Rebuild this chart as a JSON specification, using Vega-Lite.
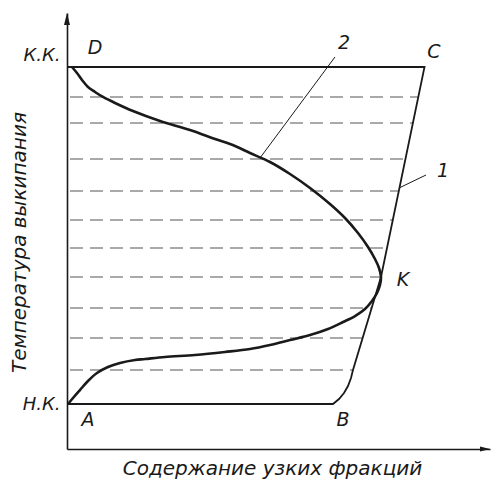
{
  "$schema": "https://vega.github.io/schema/vega-lite/v6.json",
  "width": 423,
  "height": 436,
  "autosize": "none",
  "padding": {"left": 67, "top": 13, "right": 2, "bottom": 34},
  "background": "white",
  "config": {
    "view": {"stroke": null},
    "font": "DejaVu Sans"
  },
  "datasets": {
    "outline": [
      {"o": 1, "x": 0, "y": 0},
      {"o": 2, "x": 62.88, "y": 0},
      {"o": 3, "x": 64.3, "y": 1.48},
      {"o": 4, "x": 65.48, "y": 3.26},
      {"o": 5, "x": 66.43, "y": 5.34},
      {"o": 6, "x": 67.14, "y": 7.72},
      {"o": 7, "x": 67.61, "y": 10.09},
      {"o": 8, "x": 74.23, "y": 37.69},
      {"o": 9, "x": 84.52, "y": 100},
      {"o": 10, "x": 0, "y": 100}
    ],
    "curve": [
      {"o": 1, "x": 1.18, "y": 100},
      {"o": 2, "x": 2.36, "y": 98.22},
      {"o": 3, "x": 3.55, "y": 96.14},
      {"o": 4, "x": 4.96, "y": 94.07},
      {"o": 5, "x": 6.62, "y": 92.58},
      {"o": 6, "x": 8.51, "y": 91.1},
      {"o": 7, "x": 11.35, "y": 89.32},
      {"o": 8, "x": 15.6, "y": 86.94},
      {"o": 9, "x": 21.99, "y": 83.98},
      {"o": 10, "x": 29.08, "y": 81.31},
      {"o": 11, "x": 34.99, "y": 78.64},
      {"o": 12, "x": 39.72, "y": 76.56},
      {"o": 13, "x": 43.26, "y": 74.48},
      {"o": 14, "x": 47.99, "y": 71.81},
      {"o": 15, "x": 52.72, "y": 68.25},
      {"o": 16, "x": 57.45, "y": 64.09},
      {"o": 17, "x": 62.17, "y": 59.35},
      {"o": 18, "x": 65.72, "y": 55.19},
      {"o": 19, "x": 68.79, "y": 50.74},
      {"o": 20, "x": 71.16, "y": 46.59},
      {"o": 21, "x": 72.81, "y": 43.03},
      {"o": 22, "x": 73.76, "y": 40.36},
      {"o": 23, "x": 74.23, "y": 37.69},
      {"o": 24, "x": 73.99, "y": 35.31},
      {"o": 25, "x": 73.29, "y": 32.94},
      {"o": 26, "x": 72.1, "y": 30.56},
      {"o": 27, "x": 70.45, "y": 28.19},
      {"o": 28, "x": 68.09, "y": 26.11},
      {"o": 29, "x": 65.25, "y": 24.33},
      {"o": 30, "x": 61.7, "y": 22.26},
      {"o": 31, "x": 57.45, "y": 20.47},
      {"o": 32, "x": 52.72, "y": 18.99},
      {"o": 33, "x": 47.99, "y": 17.51},
      {"o": 34, "x": 43.26, "y": 16.32},
      {"o": 35, "x": 37.35, "y": 15.43},
      {"o": 36, "x": 30.26, "y": 14.54},
      {"o": 37, "x": 23.17, "y": 13.95},
      {"o": 38, "x": 18.44, "y": 13.35},
      {"o": 39, "x": 16.08, "y": 13.06},
      {"o": 40, "x": 12.53, "y": 12.17},
      {"o": 41, "x": 9.69, "y": 10.98},
      {"o": 42, "x": 7.09, "y": 9.2},
      {"o": 43, "x": 4.96, "y": 6.82},
      {"o": 44, "x": 3.07, "y": 4.15},
      {"o": 45, "x": 1.42, "y": 1.78},
      {"o": 46, "x": 0.24, "y": 0}
    ],
    "levels": [
      {"y": 91.1, "x": 0, "x2": 83.05},
      {"y": 83.38, "x": 0, "x2": 81.77},
      {"y": 72.7, "x": 0, "x2": 80.0},
      {"y": 63.2, "x": 0, "x2": 78.44},
      {"y": 54.6, "x": 0, "x2": 77.02},
      {"y": 46.29, "x": 0, "x2": 75.65},
      {"y": 37.69, "x": 0, "x2": 74.23},
      {"y": 28.49, "x": 0, "x2": 72.03},
      {"y": 19.58, "x": 0, "x2": 69.88},
      {"y": 10.09, "x": 0, "x2": 67.61}
    ],
    "leaders": [
      {"id": "2", "o": 1, "x": 63.36, "y": 102.97},
      {"id": "2", "o": 2, "x": 45.63, "y": 73.0},
      {"id": "1", "o": 1, "x": 84.87, "y": 67.95},
      {"id": "1", "o": 2, "x": 78.49, "y": 64.09}
    ],
    "labels": [
      {"t": "D", "x": 6.62, "y": 105.64},
      {"t": "C", "x": 86.76, "y": 104.45},
      {"t": "2", "x": 65.48, "y": 107.12},
      {"t": "1", "x": 88.89, "y": 69.14},
      {"t": "K", "x": 79.43, "y": 36.8},
      {"t": "A", "x": 4.96, "y": -4.75},
      {"t": "B", "x": 65.25, "y": -4.75}
    ],
    "arrowUp": [{"x": 0, "y": 114.24}],
    "arrowRight": [{"x": 98.82, "y": -13.35}]
  },
  "encoding": {
    "x": {
      "field": "x",
      "type": "quantitative",
      "scale": {"domain": [0, 100], "nice": false, "zero": false},
      "axis": {
        "title": "Содержание узких фракций",
        "labels": false,
        "ticks": false,
        "grid": false,
        "domainColor": "#1a1a1a",
        "domainWidth": 1.6,
        "titleFont": "DejaVu Sans",
        "titleFontStyle": "italic",
        "titleFontWeight": "normal",
        "titleFontSize": 20,
        "titleColor": "#1a1a1a",
        "titleX": 205,
        "titleY": 25,
        "titleAlign": "center",
        "titleBaseline": "alphabetic"
      }
    },
    "y": {
      "field": "y",
      "type": "quantitative",
      "scale": {"domain": [-13.35, 116.02], "nice": false, "zero": false},
      "axis": {
        "title": "Температура выкипания",
        "values": [0, 100],
        "labelExpr": "datum.value == 100 ? 'К.К.' : 'Н.К.'",
        "ticks": false,
        "grid": false,
        "labelPadding": 7,
        "labelFlush": false,
        "labelOverlap": false,
        "labelFont": "DejaVu Sans",
        "labelFontStyle": "italic",
        "labelFontSize": 18,
        "labelColor": "#1a1a1a",
        "labelBaseline": "middle",
        "labelOffset": {"condition": {"test": "datum.value == 100", "value": -11}, "value": 0},
        "domainColor": "#1a1a1a",
        "domainWidth": 1.6,
        "titleFont": "DejaVu Sans",
        "titleFontStyle": "italic",
        "titleFontWeight": "normal",
        "titleFontSize": 20,
        "titleColor": "#1a1a1a",
        "titleAngle": 270,
        "titleX": -42,
        "titleY": 229,
        "titleAlign": "center",
        "titleBaseline": "alphabetic"
      }
    }
  },
  "layer": [
    {
      "data": {"name": "levels"},
      "mark": {"type": "rule", "color": "#555555", "strokeWidth": 1.1, "strokeDash": [13, 7], "strokeDashOffset": -3},
      "encoding": {"x2": {"field": "x2"}}
    },
    {
      "data": {"name": "outline"},
      "mark": {"type": "line", "color": "#1a1a1a", "strokeWidth": 1.8, "strokeJoin": "miter"},
      "encoding": {"order": {"field": "o", "type": "quantitative"}}
    },
    {
      "data": {"name": "curve"},
      "mark": {"type": "line", "color": "#1a1a1a", "strokeWidth": 2.6, "interpolate": "catmull-rom"},
      "encoding": {"order": {"field": "o", "type": "quantitative"}}
    },
    {
      "data": {"name": "leaders"},
      "mark": {"type": "line", "color": "#1a1a1a", "strokeWidth": 1},
      "encoding": {
        "detail": {"field": "id"},
        "order": {"field": "o", "type": "quantitative"}
      }
    },
    {
      "data": {"name": "labels"},
      "mark": {"type": "text", "font": "DejaVu Sans", "fontStyle": "italic", "fontSize": 19, "color": "#1a1a1a", "align": "center", "baseline": "middle"},
      "encoding": {"text": {"field": "t"}}
    },
    {
      "data": {"name": "arrowUp"},
      "mark": {"type": "point", "shape": "M0,-1L0.5,1L-0.5,1Z", "size": 144, "filled": true, "color": "#1a1a1a", "opacity": 1}
    },
    {
      "data": {"name": "arrowRight"},
      "mark": {"type": "point", "shape": "M1,0L-1,0.5L-1,-0.5Z", "size": 100, "filled": true, "color": "#1a1a1a", "opacity": 1}
    }
  ]
}
